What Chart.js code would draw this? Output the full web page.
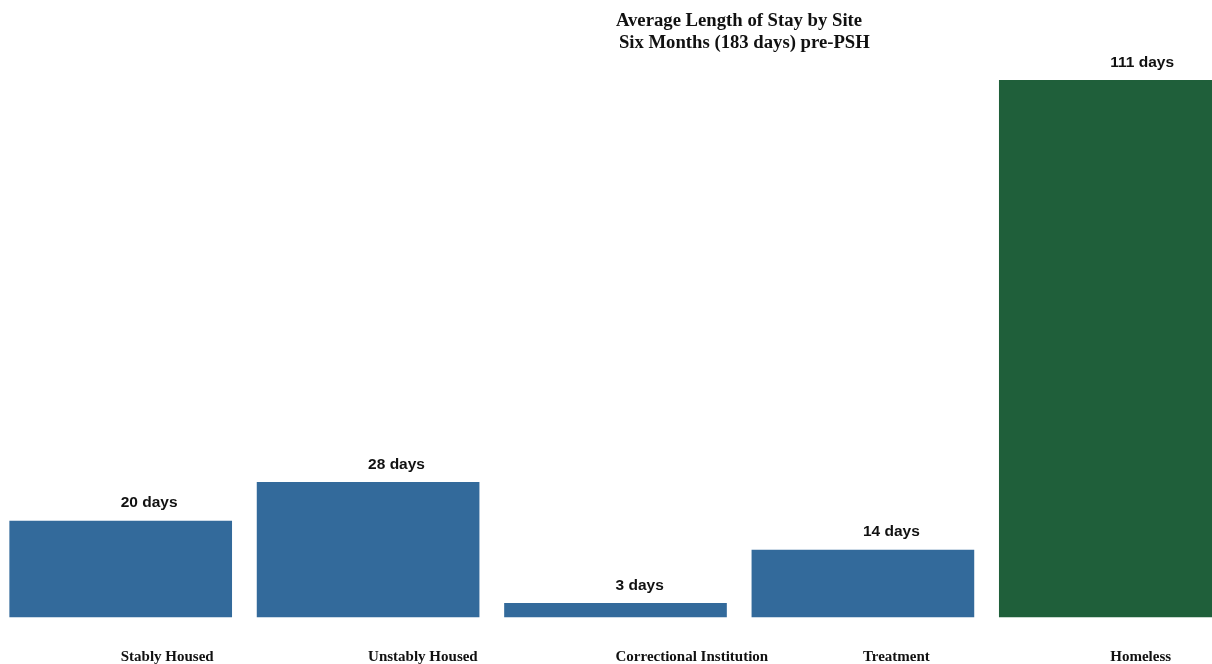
<!DOCTYPE html>
<html>
<head>
<meta charset="utf-8">
<script src="https://cdn.jsdelivr.net/npm/chart.js@4"></script>
<style>
  html, body { margin: 0; padding: 0; background: #fff; overflow: hidden; width: 1212px; height: 664px; }
  #wrap { position: absolute; left: -3px; top: 0; width: 1237px; height: 664px; }
</style>
</head>
<body>
<div id="wrap"><canvas id="c"></canvas></div>
<script>
const sites = ['Stably Housed', 'Unstably Housed', 'Correctional Institution', 'Treatment', 'Homeless'];
const avgDays = [20, 28, 3, 14, 111];
const barColors = ['#336a9b', '#336a9b', '#336a9b', '#336a9b', '#1f5f3a'];
const titleLines = ['Average Length of Stay by Site', ' Six Months (183 days) pre-PSH'];

// value labels, left-aligned at each bar's centre
const valueLabels = {
  id: 'valueLabels',
  afterDatasetsDraw(chart) {
    const ctx = chart.ctx;
    const meta = chart.getDatasetMeta(0);
    ctx.save();
    ctx.font = 'bold 15.5px "Liberation Sans", Arial, sans-serif';
    ctx.fillStyle = '#111';
    ctx.textAlign = 'left';
    ctx.textBaseline = 'middle';
    meta.data.forEach((bar, i) => {
      ctx.fillText(avgDays[i] + ' days', bar.x, bar.y - 17.5);
    });
    ctx.restore();
  }
};

// two-line heading
const heading = {
  id: 'heading',
  afterDraw(chart) {
    const ctx = chart.ctx;
    ctx.save();
    ctx.font = 'bold 18.7px "Liberation Serif", "Times New Roman", serif';
    ctx.fillStyle = '#111';
    ctx.textAlign = 'center';
    ctx.textBaseline = 'middle';
    ctx.fillText(titleLines[0], 742, 21.5);
    ctx.fillText(titleLines[1], 745, 43);
    ctx.restore();
  }
};

new Chart(document.getElementById('c'), {
  type: 'bar',
  data: {
    labels: sites,
    datasets: [{
      data: avgDays,
      backgroundColor: barColors,
      borderWidth: 0,
      barPercentage: 0.9,
      categoryPercentage: 1.0
    }]
  },
  options: {
    responsive: true,
    maintainAspectRatio: false,
    animation: false,
    layout: { padding: { top: 36.5, left: 0, right: 0, bottom: 0 } },
    plugins: {
      legend: { display: false },
      title: { display: false },
      tooltip: { enabled: false }
    },
    scales: {
      x: {
        grid: { display: false, drawTicks: false },
        border: { display: false },
        ticks: {
          align: 'start',
          padding: 31,
          color: '#111',
          font: { family: '"Liberation Serif", "Times New Roman", serif', weight: 'bold', size: 15 }
        },
        afterFit(scale) { scale.height = 46.5; }
      },
      y: {
        display: false,
        min: 0,
        max: 120
      }
    }
  },
  plugins: [valueLabels, heading]
});
</script>
</body>
</html>
